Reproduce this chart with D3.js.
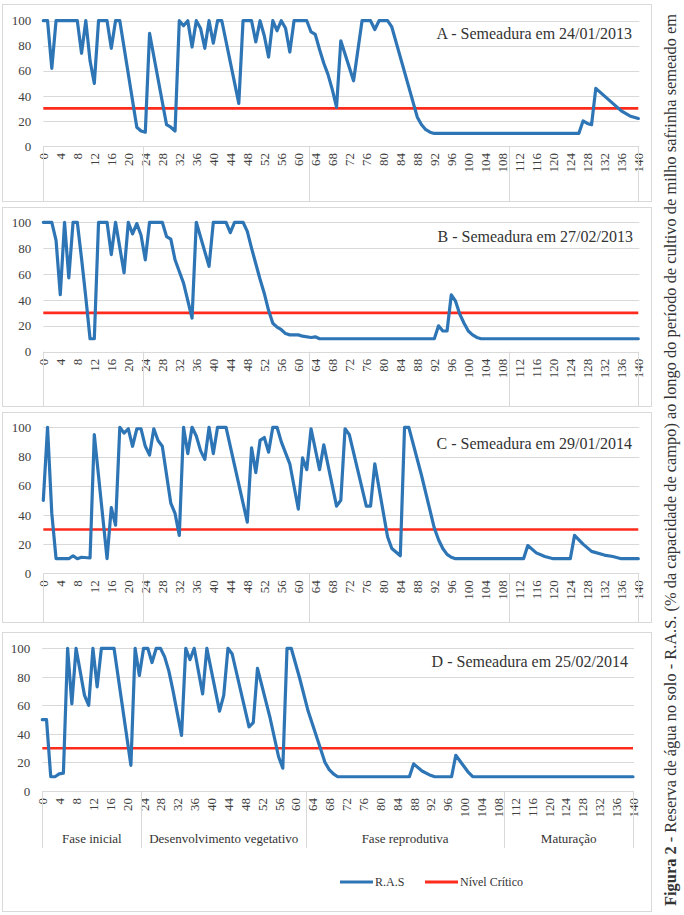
<!DOCTYPE html>
<html><head><meta charset="utf-8">
<script src="https://cdn.jsdelivr.net/npm/d3@7"></script>
<style>
body{margin:0;background:#fff}
svg{display:block}
text{font-family:"Liberation Serif","Times New Roman",serif}
</style>
</head><body>
<svg id="c" width="684" height="915" font-family="Liberation Serif, Times New Roman, serif"></svg>
<script>
// ---------------- DATA ----------------
const dayTicks = d3.range(0, 141, 4);
const valueTicks = [0, 20, 40, 60, 80, 100];
const phaseNames = ["Fase inicial", "Desenvolvimento vegetativo", "Fase reprodutiva", "Maturação"];
const phaseBounds = [0, 23.5, 62.5, 109.5, 140];
const criticalLevel = 30;
const seriesNames = ["R.A.S", "Nível Crítico"];
const panelTitles = [
  "A - Semeadura em 24/01/2013",
  "B  - Semeadura em 27/02/2013",
  "C - Semeadura em 29/01/2014",
  "D - Semeadura em 25/02/2014"
];
const captionBold = "Figura 2";
const captionText = " - Reserva de água no solo - R.A.S. (% da capacidade de campo) ao longo do período de cultivo de milho safrinha semeado em";

// Panel A (days, R.A.S %)
const dayA = [0,1,2,3,8,9,10,11,12,13,15,16,17,18,22,23,24,25,29,30,31,32,33,34,35,36,37,38,39,40,41,42,46,47,49,50,51,52,53,54,55,56,57,58,59,62,63,64,65,66,67,68,69,70,73,75,77,78,79,81,82,88,89,90,91,92,126,127,128,129,130,131,132,133,134,135,136,137,138,139,140];
const rasA = [100,100,62,100,100,74,100,68,50,100,100,78,100,100,15,12,11,90,17,15,12,100,96,100,79,100,94,78,100,82,100,100,34,100,100,83,100,88,71,100,92,100,94,75,100,100,91,89,77,66,57,45,31,84,52,100,100,93,100,100,95,23,17,13,11,10,10,20,18,17,46,43,40,37,34,31,28,26,24,23,22];

// Panel B
const dayB = [0,2,3,4,5,6,7,8,9,10,11,12,13,15,16,17,19,20,21,22,23,24,25,28,29,30,31,32,33,35,36,39,40,43,44,45,47,48,49,50,51,52,53,54,55,56,57,58,60,61,63,64,65,92,93,94,95,96,97,98,99,100,101,102,103,140];
const rasB = [100,100,86,44,100,57,100,100,72,42,10,10,100,100,75,100,61,100,91,99,90,71,100,100,89,87,71,62,53,26,100,66,100,100,92,100,100,93,80,68,56,45,32,22,19,17,14,13,13,12,11,11.5,10,10,20,16,16,44,39,29,22,16,13,11,10,10];

// Panel C
const dayC = [0,1,2,3,6,7,8,9,11,12,15,16,17,18,19,20,21,22,23,24,25,26,27,28,30,31,32,33,34,35,36,37,38,39,40,41,43,48,49,50,51,52,53,54,55,56,58,60,61,62,63,65,66,69,70,71,72,76,77,78,81,82,84,85,86,89,92,93,94,95,96,97,113,114,116,118,120,124,125,127,129,132,134,136,140];
const rasC = [50,100,41,10,10,12,10,11,10.5,95,10,45,33,100,96,99,87,99,99,87,81,99,91,87,48,41,26,100,82,100,94,84,78,100,82,100,100,35,86,69,91,93,83,100,100,90,75,44,79,71,99,71,88,46,50,99,95,46,46,75,25,17,12,100,100,67,31,23,17,13,11,10,10,19,14,11.5,10,10,26,20,15,12.5,11.5,10,10];

// Panel D
const dayD = [0,1,2,3,4,5,6,7,8,10,11,12,13,14,17,21,22,23,24,25,26,27,28,29,30,31,33,34,35,36,38,39,42,43,44,45,49,50,51,54,56,57,58,59,61,63,66,67,68,69,70,87,88,90,92,93,97,98,100,101,102,140];
const rasD = [50,50,10,10,12,12.5,100,61,100,67,60,100,73,100,100,18,100,81,100,100,90,100,100,94,84,70,39,100,92,100,68,100,56,67,100,96,45,48,86,51,24,16,100,100,79,56,29,20,15,12,10,10,19,14,11,10,10,25,17,13,10,10];

const rasSeries = [[dayA, rasA], [dayB, rasB], [dayC, rasC], [dayD, rasD]];

// ---------------- LAYOUT ----------------
const panels = [
  {box:[2,4,651,201],   x0:43.3, x1:638.3, yTop:20.7,  yBot:146,   titleX:632, titleY:39,  sepBot:201},
  {box:[2,207,651,406], x0:43.3, x1:638.3, yTop:222.3, yBot:351.7, titleX:633, titleY:242, sepBot:406},
  {box:[2,412,651,622], x0:43.3, x1:638.3, yTop:427.3, yBot:573.3, titleX:632, titleY:449, sepBot:622},
  {box:[2,632,651,911], x0:42.3, x1:633,   yTop:648.3, yBot:791,   titleX:628, titleY:667, sepBot:848}
];

const BLUE = "#2E75B6", RED = "#FF2B1C", GRID = "#D9D9D9", TXT = "#404040";
const SERIF = '"Liberation Serif","Times New Roman",serif';
const svg = d3.select("#c");

panels.forEach((p, i) => {
  const g = svg.append("g");
  const [bx0, by0, bx1, by1] = p.box;
  g.append("rect").attr("x", bx0 + 0.5).attr("y", by0 + 0.5)
    .attr("width", bx1 - bx0).attr("height", by1 - by0)
    .attr("fill", "#fff").attr("stroke", GRID).attr("stroke-width", 1);

  const x = d3.scaleLinear().domain([0, 140]).range([p.x0, p.x1]);
  const y = d3.scaleLinear().domain([0, 100]).range([p.yBot, p.yTop]);

  // gridlines
  g.append("g").selectAll("line").data(valueTicks).join("line")
    .attr("x1", x(0)).attr("x2", x(140) + 1)
    .attr("y1", d => Math.round(y(d)) + 0.5).attr("y2", d => Math.round(y(d)) + 0.5)
    .attr("stroke", GRID).attr("stroke-width", 1);

  // y axis labels
  const yAxis = d3.axisLeft(y).tickValues(valueTicks).tickSize(0).tickPadding(12);
  const ya = g.append("g").attr("transform", `translate(${x(0)},0)`).call(yAxis)
    .attr("font-family", null).attr("font-size", null);
  ya.select(".domain").remove();
  ya.selectAll("text").attr("font-size", 13).attr("fill", TXT).style("font-family", SERIF);

  // x axis labels (rotated)
  const xAxis = d3.axisBottom(x).tickValues(dayTicks).tickSize(0).tickPadding(0);
  const xa = g.append("g").attr("transform", `translate(0,${p.yBot})`).call(xAxis)
    .attr("font-family", null).attr("font-size", null);
  xa.select(".domain").remove();
  xa.selectAll("text")
    .attr("font-size", 13).attr("fill", TXT).style("font-family", SERIF)
    .attr("text-anchor", "end").attr("dy", null).attr("y", 0)
    .attr("transform", "translate(0,7) rotate(-90)")
    .attr("dominant-baseline", "central");

  // phase separators
  g.append("g").selectAll("line").data(phaseBounds).join("line")
    .attr("x1", d => Math.round(x(d)) + 0.5).attr("x2", d => Math.round(x(d)) + 0.5)
    .attr("y1", p.yBot).attr("y2", p.sepBot)
    .attr("stroke", GRID).attr("stroke-width", 1);

  // critical level
  g.append("path")
    .datum([[0, criticalLevel], [140, criticalLevel]])
    .attr("d", d3.line().x(d => x(d[0])).y(d => y(d[1])))
    .attr("stroke", RED).attr("stroke-width", 2.6).attr("fill", "none");

  // RAS line
  const [days, vals] = rasSeries[i];
  const pts = days.map((d, k) => [d, vals[k]]);
  g.append("path").datum(pts)
    .attr("d", d3.line().x(d => x(d[0])).y(d => y(d[1])))
    .attr("stroke", BLUE).attr("stroke-width", 3.2).attr("fill", "none")
    .attr("stroke-linejoin", "round").attr("stroke-linecap", "round");

  // title
  g.append("text").attr("x", p.titleX).attr("y", p.titleY)
    .attr("text-anchor", "end").attr("font-size", 16).attr("fill", "#333")
    .style("font-family", SERIF)
    .text(panelTitles[i]);

  // phase labels and legend on last panel
  if (i === panels.length - 1) {
    g.append("g").selectAll("text").data(phaseNames).join("text")
      .attr("x", (d, k) => (x(phaseBounds[k]) + x(phaseBounds[k + 1])) / 2)
      .attr("y", 843).attr("text-anchor", "middle").style("font-family", SERIF)
      .attr("font-size", 13).attr("fill", "#333").text(d => d);

    const leg = g.append("g");
    const items = [{name: seriesNames[0], c: BLUE, x: 340}, {name: seriesNames[1], c: RED, x: 425}];
    items.forEach(it => {
      leg.append("line").attr("x1", it.x).attr("x2", it.x + 33).attr("y1", 882).attr("y2", 882)
        .attr("stroke", it.c).attr("stroke-width", 3);
      leg.append("text").attr("x", it.x + 35).attr("y", 886).attr("font-size", 12)
        .style("font-family", SERIF).attr("fill", "#333").text(it.name);
    });
  }
});

// right vertical caption
const cap = svg.append("text")
  .attr("transform", "translate(676,906) rotate(-90)")
  .attr("font-size", 16.4).attr("fill", "#333").style("font-family", SERIF);
cap.append("tspan").attr("font-weight", "bold").text(captionBold);
cap.append("tspan").text(captionText);
</script>
</body></html>
